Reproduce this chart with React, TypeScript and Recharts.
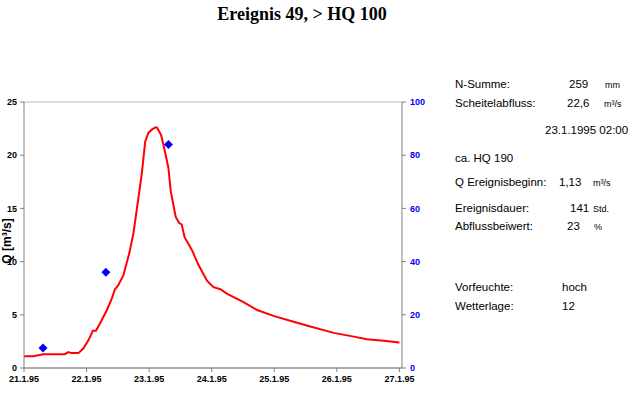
import React from 'react';
import { ComposedChart, Line, Scatter, XAxis, YAxis, CartesianGrid } from 'recharts';

// hours since 21.1.95 00:00
const flowHours = [0, 3.6, 7.4, 15.7, 17, 18.2, 20.9, 22.8, 24.7, 26.4, 27.6, 29.2, 31.8, 33.7, 34.9, 36.2, 38.1, 40.4, 42, 43.5, 45.2, 46.5, 47.7, 49, 50.3, 51, 52.6, 54.1, 55.4, 56.3, 58.2, 59.6, 60.5, 61.6, 64.4, 66.9, 70.2, 72.7, 75.3, 77.8, 84.2, 89.4, 95.7, 103.4, 109.8, 118.8, 126.5, 131.6, 138, 144];
const flowValues = [1.1, 1.1, 1.3, 1.3, 1.5, 1.4, 1.4, 1.85, 2.6, 3.5, 3.5, 4.2, 5.45, 6.55, 7.4, 7.8, 8.7, 10.8, 12.7, 15.3, 18.3, 21.3, 22.1, 22.4, 22.6, 22.6, 21.9, 20.3, 18.8, 16.6, 14.2, 13.6, 13.5, 12.3, 11.1, 9.7, 8.2, 7.6, 7.4, 7.0, 6.2, 5.45, 4.9, 4.35, 3.9, 3.3, 2.95, 2.7, 2.55, 2.4];

const rainHours = [7.3, 31.4, 55.4];
const rainValues = [7.5, 36, 84];

const dayTicks = [0, 24, 48, 72, 96, 120, 144];
const dayLabels = ['21.1.95', '22.1.95', '23.1.95', '24.1.95', '25.1.95', '26.1.95', '27.1.95'];
const qTicks = [0, 5, 10, 15, 20, 25];
const nTicks = [0, 20, 40, 60, 80, 100];

const infoRows = [
  { label: 'N-Summe:', value: '259', unit: 'mm', y: 88, vx: 569, ux: 605 },
  { label: 'Scheitelabfluss:', value: '22,6', unit: 'm³/s', y: 106.5, vx: 567, ux: 604 },
  { label: 'ca. HQ 190', value: '', unit: '', y: 161.5, vx: 0, ux: 0 },
  { label: 'Q Ereignisbeginn:', value: '1,13', unit: 'm³/s', y: 186, vx: 559, ux: 593 },
  { label: 'Ereignisdauer:', value: '141', unit: 'Std.', y: 211.5, vx: 570, ux: 593 },
  { label: 'Abflussbeiwert:', value: '23', unit: '%', y: 230, vx: 567, ux: 594 },
  { label: 'Vorfeuchte:', value: 'hoch', unit: '', y: 290.5, vx: 562, ux: 0 },
  { label: 'Wetterlage:', value: '12', unit: '', y: 310, vx: 562, ux: 0 },
];

const flowPoints = flowHours.map((h, i) => ({ h, q: flowValues[i] }));
const rainPoints = rainHours.map((h, i) => ({ h, n: rainValues[i] }));

const sans = 'Liberation Sans, Arial, sans-serif';
const tickStyle = { fill: '#000', fontSize: 9, fontWeight: 'bold' as const, fontFamily: sans };

const Diamond = (props: any) => {
  const { cx, cy } = props;
  const r = 4.5;
  return <polygon points={`${cx},${cy - r} ${cx + r},${cy} ${cx},${cy + r} ${cx - r},${cy}`} fill="#0000ff" />;
};

export default function App() {
  return (
    <div style={{ position: 'absolute', left: 0, top: 0, width: 643, height: 413, background: '#fff' }}>
      <ComposedChart width={643} height={413} margin={{ top: 102, right: 211, bottom: 25, left: 0 }}>
        <CartesianGrid vertical={false} stroke="#b8b8b8" />
        <XAxis
          dataKey="h"
          type="number"
          domain={[0, 145]}
          ticks={dayTicks}
          tickFormatter={(v: number) => dayLabels[dayTicks.indexOf(v)]}
          height={20}
          tickSize={4}
          tickMargin={4}
          stroke="#808080"
          tick={tickStyle}
        />
        <YAxis
          yAxisId="left"
          domain={[0, 25]}
          ticks={qTicks}
          width={24}
          tickSize={4}
          tickMargin={3}
          stroke="#808080"
          tick={tickStyle}
        />
        <YAxis
          yAxisId="right"
          orientation="right"
          domain={[0, 100]}
          ticks={nTicks}
          width={30}
          tickSize={4}
          tickMargin={4}
          stroke="#808080"
          tick={{ ...tickStyle, fill: '#0000ff' }}
        />
        <Line
          data={flowPoints}
          dataKey="q"
          yAxisId="left"
          type="linear"
          stroke="#ff0000"
          strokeWidth={2}
          dot={false}
          isAnimationActive={false}
        />
        <Scatter data={rainPoints} dataKey="n" yAxisId="right" shape={Diamond} isAnimationActive={false} />
      </ComposedChart>
      <svg width={643} height={413} style={{ position: 'absolute', left: 0, top: 0, pointerEvents: 'none' }}>
        <text x={302} y={20} textAnchor="middle" fontFamily="Liberation Serif, Times New Roman, serif" fontWeight="bold" fontSize={18}>
          Ereignis 49, &gt; HQ 100
        </text>
        <text
          x={0}
          y={0}
          transform="translate(11,241) rotate(-90)"
          textAnchor="middle"
          fontFamily={sans}
          fontWeight="bold"
          fontSize={12}
        >
          Q [m³/s]
        </text>
        <g fontFamily={sans} fontSize={11.5} fill="#000">
          {infoRows.map((r) => (
            <g key={r.label}>
              <text x={455} y={r.y}>{r.label}</text>
              {r.value && <text x={r.vx} y={r.y}>{r.value}</text>}
              {r.unit && <text x={r.ux} y={r.y} fontSize={9}>{r.unit}</text>}
            </g>
          ))}
          <text x={545} y={134}>23.1.1995 02:00</text>
        </g>
      </svg>
    </div>
  );
}
